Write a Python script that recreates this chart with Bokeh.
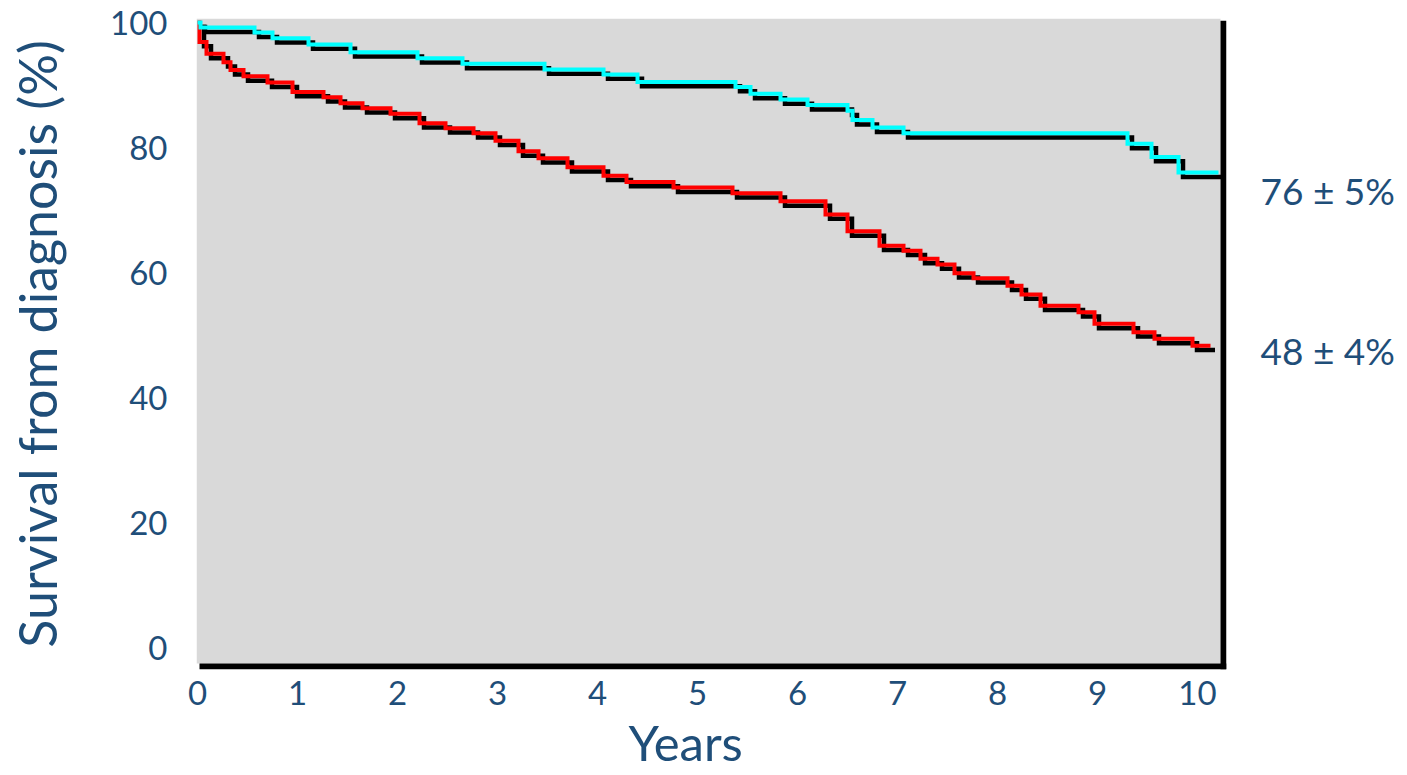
from bokeh.plotting import figure
from bokeh.models import Range1d, BoxAnnotation, FixedTicker, LinearAxis, Title
from bokeh.embed import file_html
from bokeh.resources import INLINE

# ---- data ----
years_ticks = [0, 1, 2, 3, 4, 5, 6, 7, 8, 9, 10]
surv_ticks = [0, 20, 40, 60, 80, 100]

cyan_t = [0, 0.03, 0.57, 0.75, 1.11, 1.53, 2.20, 2.65, 3.47, 4.06, 4.40, 5.38,
          5.53, 5.83, 6.10, 6.50, 6.55, 6.75, 7.06, 9.30, 9.54, 9.81]
cyan_s = [100, 99.2, 98.4, 97.5, 96.5, 95.25, 94.3, 93.4, 92.5, 91.7, 90.5, 89.7,
          88.6, 87.7, 86.8, 85.9, 84.4, 83.2, 82.3, 80.6, 78.5, 76.0]
cyan_end = 10.21

red_t = [0, 0.02, 0.09, 0.26, 0.33, 0.46, 0.70, 0.95, 1.26, 1.43, 1.65, 1.93,
         2.22, 2.48, 2.76, 2.98, 3.21, 3.41, 3.70, 4.06, 4.29, 4.76, 5.35, 5.83,
         6.28, 6.50, 6.82, 7.06, 7.23, 7.40, 7.57, 7.76, 8.10, 8.24, 8.43, 8.81,
         8.97, 9.36, 9.57, 9.95]
red_s = [100, 96.9, 95.0, 93.65, 92.4, 91.4, 90.4, 88.9, 88.05, 87.1, 86.3, 85.4,
         83.9, 83.1, 82.3, 81.1, 79.4, 78.3, 76.85, 75.5, 74.5, 73.6, 72.7, 71.4,
         69.3, 66.6, 64.3, 63.5, 62.2, 61.3, 59.9, 59.1, 57.9, 56.5, 54.7, 53.65,
         51.8, 50.45, 49.4, 48.3]
red_end = 10.13

end_labels = ["76 ± 5%", "48 ± 4%"]

# ---- styling ----
TXT = "#1F4E79"
FONT = "Lato"
SHADOW_DX = 0.045   # years
SHADOW_DY = -0.7    # percent
END_LABEL_Y = [73.1, 47.5]   # vertical placement of the end annotations

p = figure(width=1407, height=775,
           x_range=Range1d(-0.01, 10.29), y_range=Range1d(-3.52, 100.64),
           output_backend="svg", toolbar_location=None,
           min_border_left=196, min_border_right=181,
           min_border_top=18, min_border_bottom=106,
           background_fill_color="white", border_fill_color="white",
           outline_line_color=None)
p.grid.visible = False

# grey plotting area and the black right/bottom edges
p.add_layout(BoxAnnotation(right=10.23, bottom=-2.56, fill_color="#d9d9d9",
                           fill_alpha=1, line_color=None, level="underlay"))
p.add_layout(BoxAnnotation(left=10.23, top=100.3, fill_color="black", fill_alpha=1,
                           line_color=None, level="underlay"))
p.add_layout(BoxAnnotation(left=0.02, top=-2.56, fill_color="black", fill_alpha=1,
                           line_color=None, level="underlay"))


def curve(ts, ss, end, color):
    xs = list(ts) + [end]
    ys = list(ss) + [ss[-1]]
    p.step([x + SHADOW_DX for x in xs], [y + SHADOW_DY for y in ys], mode="after",
           line_color="black", line_width=4.5, line_join="miter")
    p.step(xs, ys, mode="after", line_color=color, line_width=4, line_join="miter")


curve(red_t, red_s, red_end, "#FF0000")
curve(cyan_t, cyan_s, cyan_end, "#00FFFF")

# right-hand axis carrying the end-of-curve annotations
right_ax = LinearAxis(ticker=FixedTicker(ticks=END_LABEL_Y),
                      major_label_overrides={END_LABEL_Y[0]: end_labels[0],
                                             END_LABEL_Y[1]: end_labels[1]})
right_ax.major_label_text_font_size = "37px"
right_ax.major_label_standoff = 28
p.add_layout(right_ax, "right")

for ax in (p.xaxis[0], p.yaxis[0], right_ax):
    ax.axis_line_color = None
    ax.major_tick_line_color = None
    ax.minor_tick_line_color = None
    ax.major_label_text_font = FONT
    ax.major_label_text_color = TXT
p.xaxis[0].major_label_text_font_size = "33px"
p.yaxis[0].major_label_text_font_size = "33px"
p.xaxis[0].ticker = FixedTicker(ticks=years_ticks)
p.yaxis[0].ticker = FixedTicker(ticks=surv_ticks)
p.xaxis[0].major_label_standoff = 5
p.yaxis[0].major_label_standoff = 23

# axis titles
p.yaxis[0].axis_label = "Survival from diagnosis (%)"
p.yaxis[0].axis_label_text_font = FONT
p.yaxis[0].axis_label_text_font_size = "52px"
p.yaxis[0].axis_label_text_font_style = "normal"
p.yaxis[0].axis_label_text_color = TXT
p.yaxis[0].axis_label_standoff = 39

p.add_layout(Title(text="Years", align="left", offset=432, standoff=7,
                   text_font=FONT, text_font_size="49px", text_font_style="normal",
                   text_color=TXT), "below")

open("out.html", "w").write(file_html(p, INLINE))
